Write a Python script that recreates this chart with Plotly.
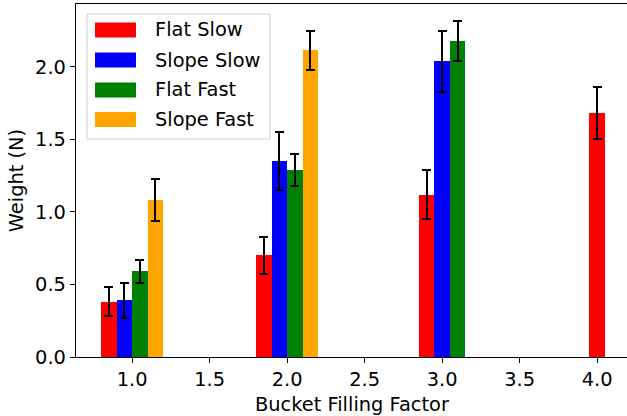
import plotly.graph_objects as go

# ---- data ----
series_names = ["Flat Slow", "Slope Slow", "Flat Fast", "Slope Fast"]
series_colors = ["#ff0000", "#0000ff", "#008000", "#ffa500"]

flat_slow_factor = [1, 2, 3, 4]
flat_slow_value = [0.38, 0.70, 1.12, 1.68]
flat_slow_err = [0.10, 0.13, 0.17, 0.18]

slope_slow_factor = [1, 2, 3]
slope_slow_value = [0.39, 1.35, 2.04]
slope_slow_err = [0.12, 0.20, 0.21]

flat_fast_factor = [1, 2, 3]
flat_fast_value = [0.59, 1.29, 2.18]
flat_fast_err = [0.08, 0.11, 0.14]

slope_fast_factor = [1, 2]
slope_fast_value = [1.08, 2.115]
slope_fast_err = [0.145, 0.135]

x_ticks = [1.0, 1.5, 2.0, 2.5, 3.0, 3.5, 4.0]
y_ticks = [0.0, 0.5, 1.0, 1.5, 2.0]

series = [
    (flat_slow_factor, flat_slow_value, flat_slow_err),
    (slope_slow_factor, slope_slow_value, slope_slow_err),
    (flat_fast_factor, flat_fast_value, flat_fast_err),
    (slope_fast_factor, slope_fast_value, slope_fast_err),
]

BAR_W = 0.1
# number of bars present at each filling factor
group_size = {}
for fac, _, _ in series:
    for f in fac:
        group_size[f] = group_size.get(f, 0) + 1

FONT = "DejaVu Sans"
FS = 19.4

fig = go.Figure()
slot_used = {}
for (fac, val, err), name, col in zip(series, series_names, series_colors):
    xs = []
    for f in fac:
        i = slot_used.get(f, 0)
        slot_used[f] = i + 1
        n = group_size[f]
        xs.append(f + (i - (n - 1) / 2) * BAR_W)
    fig.add_trace(go.Bar(
        x=xs, y=val, width=BAR_W, name=name,
        marker=dict(color=col, line=dict(width=0)),
        error_y=dict(type="data", array=err, color="black", thickness=2, width=4.5),
        showlegend=False, hoverinfo="skip",
    ))

# figure is wider than the window: the right part of the axes box is cut off, as in the reference
W, H = 660, 416
L, R, T, B = 76, 0, 4, 59
PW, PH = W - L - R, H - T - B
R_CLIP = 630  # where the axes box actually ends (beyond the window edge)


def px(x):
    return (x - L) / PW


def py(y):
    return (H - B - y) / PH


shapes = []
annotations = []
# legend frame
shapes.append(dict(type="rect", xref="paper", yref="paper",
                   x0=px(87), x1=px(270), y0=py(139), y1=py(14),
                   line=dict(color="#d0d0d0", width=1), fillcolor="rgba(255,255,255,0.8)",
                   layer="above"))
row_y = [30, 60, 90, 119.5]
for name, col, ry in zip(series_names, series_colors, row_y):
    shapes.append(dict(type="rect", xref="paper", yref="paper",
                       x0=px(95), x1=px(136), y0=py(ry + 7.5), y1=py(ry - 7.5),
                       line=dict(width=0), fillcolor=col, layer="above"))
    annotations.append(dict(xref="paper", yref="paper", x=px(153), y=py(ry),
                            text=name, showarrow=False, xanchor="left", yanchor="middle",
                            font=dict(family=FONT, size=FS, color="black")))

x_center_px = (L + 627) / 2
fig.update_layout(
    width=W, height=H,
    margin=dict(l=L, r=R, t=T, b=B, pad=0, autoexpand=False),
    paper_bgcolor="white", plot_bgcolor="white",
    barmode="overlay", bargap=0,
    font=dict(family=FONT, size=FS, color="black"),
    shapes=shapes, annotations=annotations + [
        dict(xref="paper", yref="paper", x=px(x_center_px), y=py(404),
             text="Bucket Filling Factor", showarrow=False, xanchor="center", yanchor="middle",
             font=dict(family=FONT, size=FS, color="black"))],
    xaxis=dict(
        automargin=False,
        range=[0.6375, 0.6375 + PW / 155.0],
        tickmode="array", tickvals=x_ticks, ticktext=[f"{t:.1f}" for t in x_ticks],
        ticks="outside", ticklen=5, tickwidth=1, tickcolor="black",
        showline=True, linecolor="black", linewidth=1.2, mirror=True,
        showgrid=False, zeroline=False,
        tickfont=dict(family=FONT, size=FS, color="black"),
    ),
    yaxis=dict(
        automargin=False,
        range=[0, 2.434],
        tickmode="array", tickvals=y_ticks, ticktext=[f"{t:.1f}" for t in y_ticks],
        ticks="outside", ticklen=5, tickwidth=1, tickcolor="black",
        showline=True, linecolor="black", linewidth=1.2, mirror=False,
        showgrid=False, zeroline=False,
        title=dict(text="Weight (N)", font=dict(family=FONT, size=FS), standoff=6),
        tickfont=dict(family=FONT, size=FS, color="black"),
    ),
)

fig.write_html(
    "out.html",
    config={"displayModeBar": False, "staticPlot": True},
    post_script="document.body.style.margin='0';document.body.style.overflow='hidden';"
                "document.documentElement.style.overflow='hidden';",
)
